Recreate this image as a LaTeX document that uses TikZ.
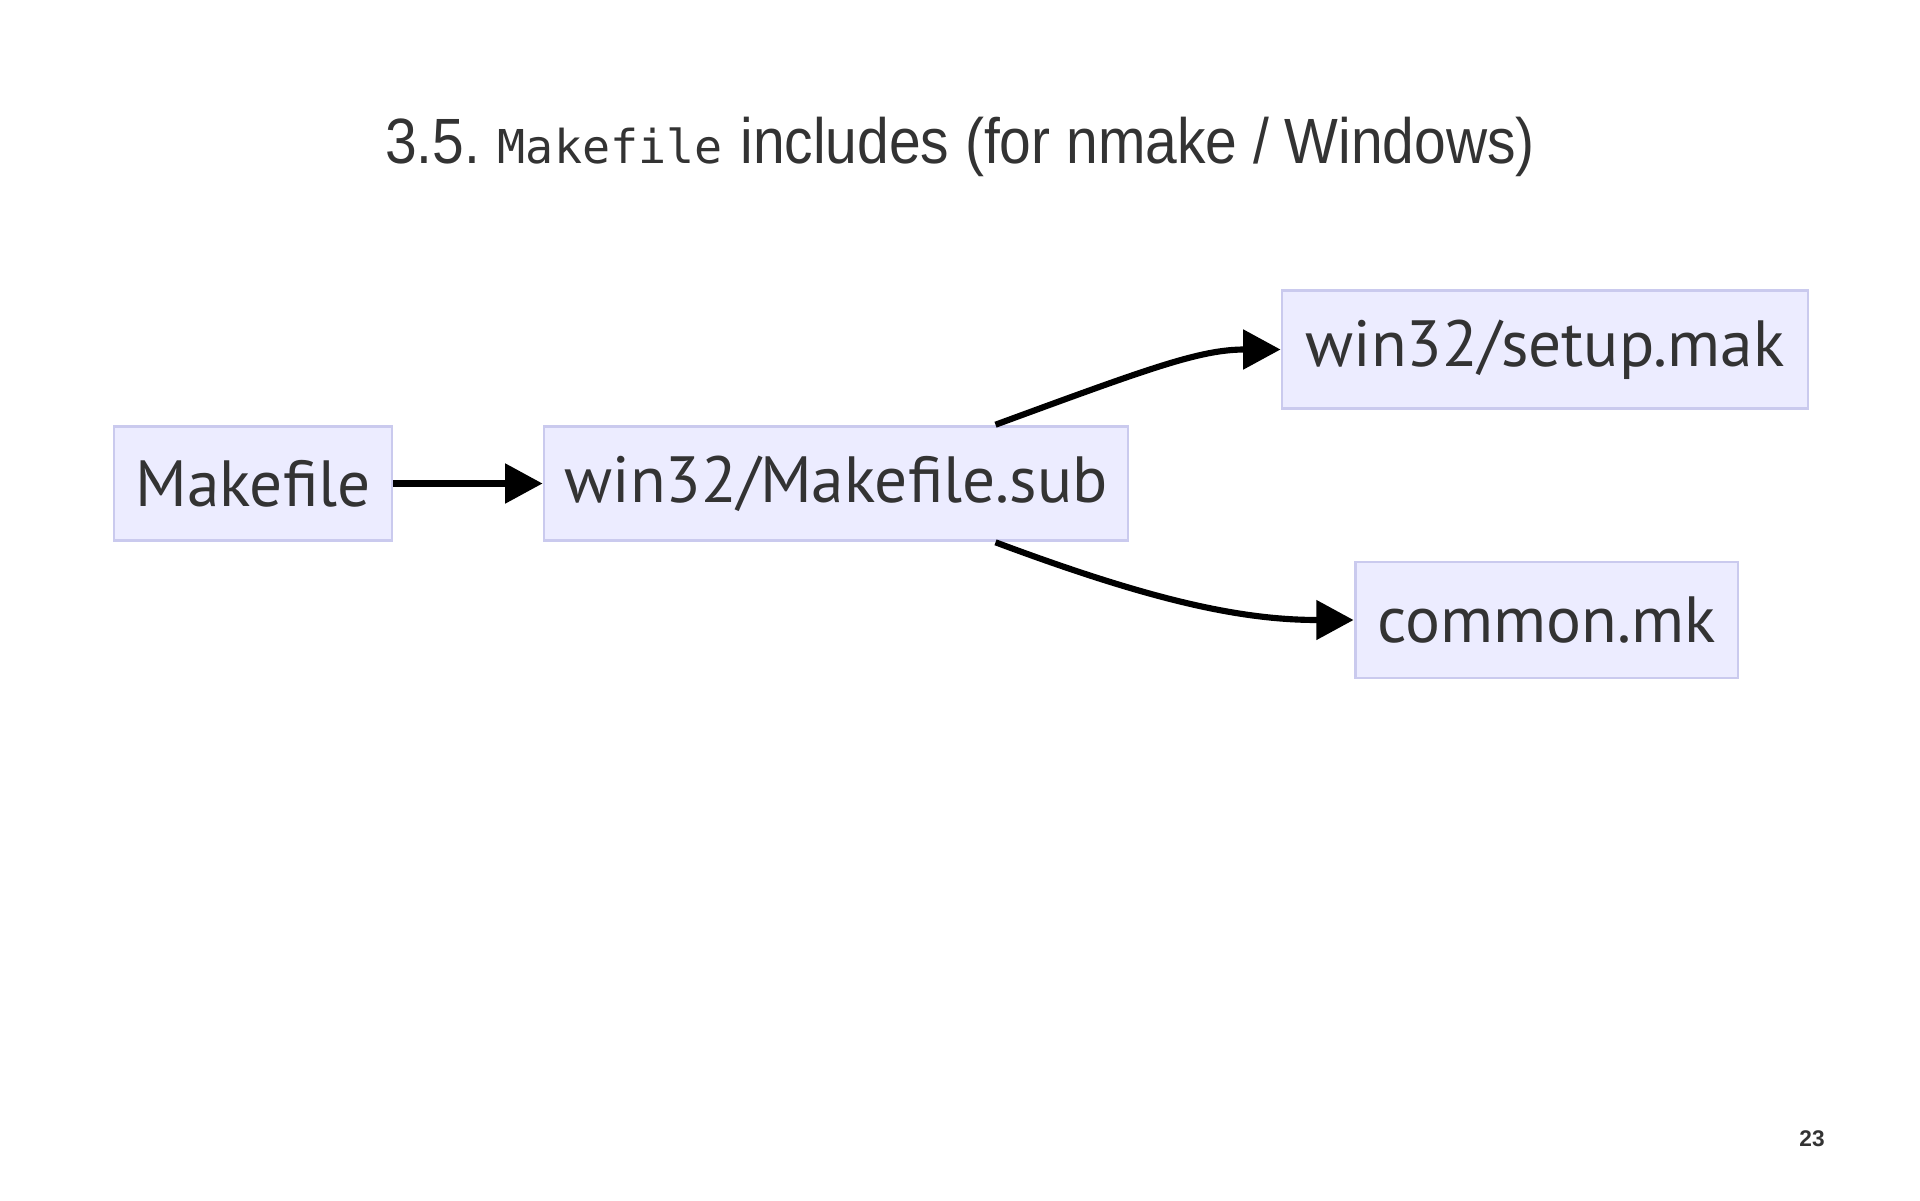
\documentclass[tikz,border=0pt]{standalone}
\usepackage{fontspec}
\usepackage{graphicx}
\setmainfont{Liberation Sans}
\setmonofont{DejaVu Sans Mono}
\newfontfamily\nodefont{PT Sans}
\usetikzlibrary{arrows.meta,calc}
\definecolor{boxfill}{HTML}{ECECFF}
\definecolor{boxline}{HTML}{CACAEE}
\definecolor{txt}{HTML}{333333}
\tikzset{
  box/.style={draw=boxline, fill=boxfill, line width=1.1pt, rectangle,
    inner sep=0pt, text=txt, font=\nodefont\fontsize{24.5}{28}\selectfont},
  conn/.style={line width=2.3pt, draw=black,
    -{Triangle[length=14pt,width=14.5pt]}},
}
\begin{document}
\begin{tikzpicture}[x=0.375pt,y=-0.375pt]
\useasboundingbox (0,0) rectangle (1920,1200);
\node[text=txt, font=\fontsize{24}{30}\selectfont, anchor=base, inner sep=0pt] (title) at (960,163)
  {\scalebox{0.89}[1]{3.5.} {\ttfamily\fontsize{17.5}{22}\selectfont Makefile} \scalebox{0.89}[1]{includes (for nmake / Windows)}};
\node[box, minimum width=104.25pt, minimum height=43pt] (mk) at (253,483.5) {Makefile};
\node[box, minimum width=219pt, minimum height=43pt] (sub) at (836,483.5) {win32/Makefile.sub};
\node[box, minimum width=197.25pt, minimum height=44pt] (setup) at (1545,349.5) {win32/setup.mak};
\node[box, minimum width=143.6pt, minimum height=43.5pt] (common) at (1546.5,620) {common.mk};
\coordinate (s1) at ($(sub.north west)+(453,0)$);
\coordinate (s2) at ($(sub.south west)+(453,0)$);
\draw[conn] (mk.east) -- (sub.west);
\draw[conn] (s1) .. controls (1150,368) and (1200,349.5) .. (setup.west);
\draw[conn] (s2) .. controls (1150,600) and (1240,620) .. (common.west);
\node[text=txt, font=\bfseries\fontsize{8.5}{10}\selectfont] (pg) at (1812,1139) {23};
\end{tikzpicture}
\end{document}
